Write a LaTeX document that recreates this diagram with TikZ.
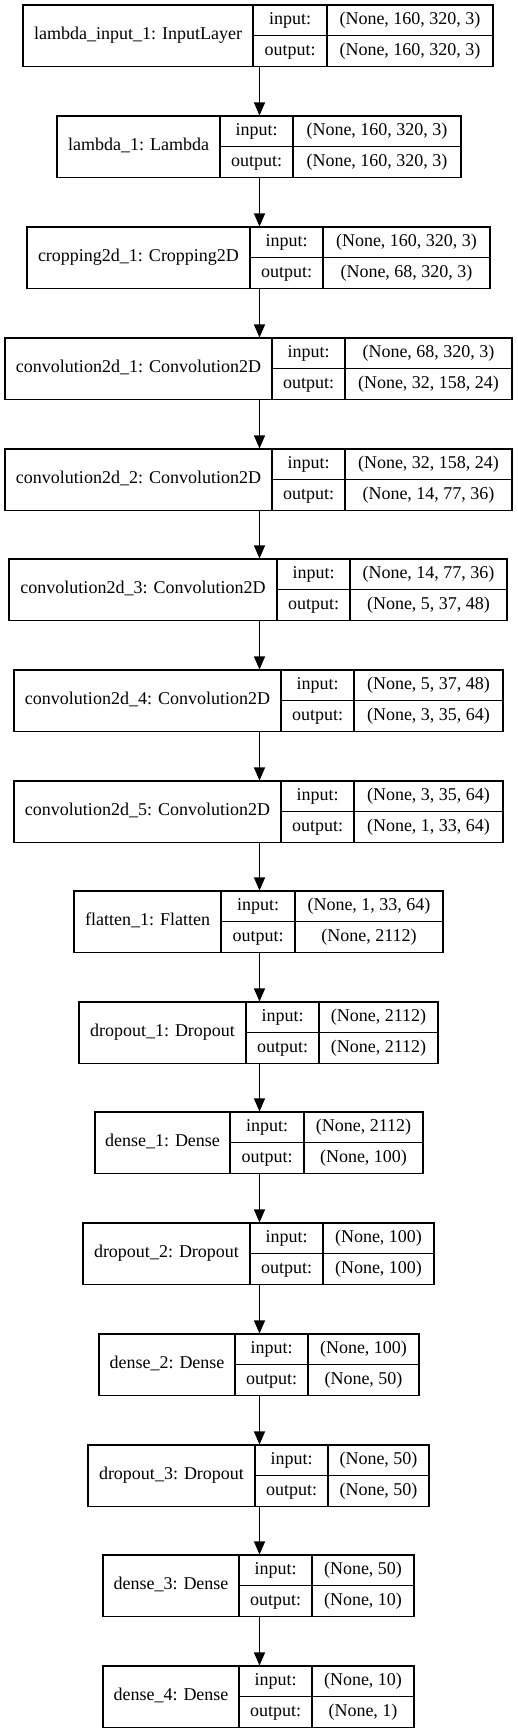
\documentclass[tikz,border=0pt]{standalone}
\usepackage{fontspec}
\setmainfont{Liberation Serif}
\usetikzlibrary{arrows.meta}

\tikzset{
	cell/.style={draw, line width=1.1pt, inner sep=0pt, text height=12pt, text depth=4pt, font=\fontsize{18pt}{22pt}\selectfont},
	flow/.style={line width=1.1pt, -{Triangle[length=13pt, width=11pt]}},
}

% #1 name, #2 top, #3 left, #4 first divider, #5 second divider, #6 right, #7 layer, #8 input, #9 output
\newcommand{\kerasbox}[9]{%
	\node (#1) [cell, minimum width={(#4-#3)*1pt}, minimum height=61.5pt] at ({(#3+#4)/2}, {-#2-30.75}) {#7};
	\node (#1-inkey) [cell, minimum width={(#5-#4)*1pt}, minimum height=30.75pt] at ({(#4+#5)/2}, {-#2-15.375}) {input:};
	\node (#1-outkey) [cell, minimum width={(#5-#4)*1pt}, minimum height=30.75pt] at ({(#4+#5)/2}, {-#2-46.125}) {output:};
	\node (#1-inval) [cell, minimum width={(#6-#5)*1pt}, minimum height=30.75pt] at ({(#5+#6)/2}, {-#2-15.375}) {#8};
	\node (#1-outval) [cell, minimum width={(#6-#5)*1pt}, minimum height=30.75pt] at ({(#5+#6)/2}, {-#2-46.125}) {#9};
}

\begin{document}
\begin{tikzpicture}[x=1pt, y=1pt]
	\useasboundingbox (0,0) rectangle (517,-1733);
	\coordinate (spine) at (259.5,0);

	\kerasbox{lambdainput}{5}{23}{253}{327}{493}{lambda\_input\_1: InputLayer}{(None, 160, 320, 3)}{(None, 160, 320, 3)}
	\kerasbox{lambda}{116}{57}{220}{293}{461}{lambda\_1: Lambda}{(None, 160, 320, 3)}{(None, 160, 320, 3)}
	\kerasbox{cropping}{227}{27}{250}{323}{490}{cropping2d\_1: Cropping2D}{(None, 160, 320, 3)}{(None, 68, 320, 3)}
	\kerasbox{conva}{338}{5}{272}{345}{512}{convolution2d\_1: Convolution2D}{(None, 68, 320, 3)}{(None, 32, 158, 24)}
	\kerasbox{convb}{449}{5}{272}{345}{512}{convolution2d\_2: Convolution2D}{(None, 32, 158, 24)}{(None, 14, 77, 36)}
	\kerasbox{convc}{559}{9}{277}{350}{507}{convolution2d\_3: Convolution2D}{(None, 14, 77, 36)}{(None, 5, 37, 48)}
	\kerasbox{convd}{670}{14}{281}{354}{503}{convolution2d\_4: Convolution2D}{(None, 5, 37, 48)}{(None, 3, 35, 64)}
	\kerasbox{conve}{781}{14}{281}{354}{503}{convolution2d\_5: Convolution2D}{(None, 3, 35, 64)}{(None, 1, 33, 64)}
	\kerasbox{flatten}{891}{74}{221}{295}{443}{flatten\_1: Flatten}{(None, 1, 33, 64)}{(None, 2112)}
	\kerasbox{dropa}{1002}{79}{246}{319}{438}{dropout\_1: Dropout}{(None, 2112)}{(None, 2112)}
	\kerasbox{densea}{1112}{95}{230}{304}{423}{dense\_1: Dense}{(None, 2112)}{(None, 100)}
	\kerasbox{dropb}{1223}{83}{250}{323}{434}{dropout\_2: Dropout}{(None, 100)}{(None, 100)}
	\kerasbox{denseb}{1334}{99}{235}{308}{419}{dense\_2: Dense}{(None, 100)}{(None, 50)}
	\kerasbox{dropc}{1445}{88}{255}{328}{429}{dropout\_3: Dropout}{(None, 50)}{(None, 50)}
	\kerasbox{densec}{1555}{103}{239}{312}{414}{dense\_3: Dense}{(None, 50)}{(None, 10)}
	\kerasbox{densed}{1666}{103}{239}{312}{414}{dense\_4: Dense}{(None, 10)}{(None, 1)}

	\draw [flow] (spine |- lambdainput.south) -- (spine |- lambda.north);
	\draw [flow] (spine |- lambda.south) -- (spine |- cropping.north);
	\draw [flow] (spine |- cropping.south) -- (spine |- conva.north);
	\draw [flow] (spine |- conva.south) -- (spine |- convb.north);
	\draw [flow] (spine |- convb.south) -- (spine |- convc.north);
	\draw [flow] (spine |- convc.south) -- (spine |- convd.north);
	\draw [flow] (spine |- convd.south) -- (spine |- conve.north);
	\draw [flow] (spine |- conve.south) -- (spine |- flatten.north);
	\draw [flow] (spine |- flatten.south) -- (spine |- dropa.north);
	\draw [flow] (spine |- dropa.south) -- (spine |- densea.north);
	\draw [flow] (spine |- densea.south) -- (spine |- dropb.north);
	\draw [flow] (spine |- dropb.south) -- (spine |- denseb.north);
	\draw [flow] (spine |- denseb.south) -- (spine |- dropc.north);
	\draw [flow] (spine |- dropc.south) -- (spine |- densec.north);
	\draw [flow] (spine |- densec.south) -- (spine |- densed.north);
\end{tikzpicture}
\end{document}
